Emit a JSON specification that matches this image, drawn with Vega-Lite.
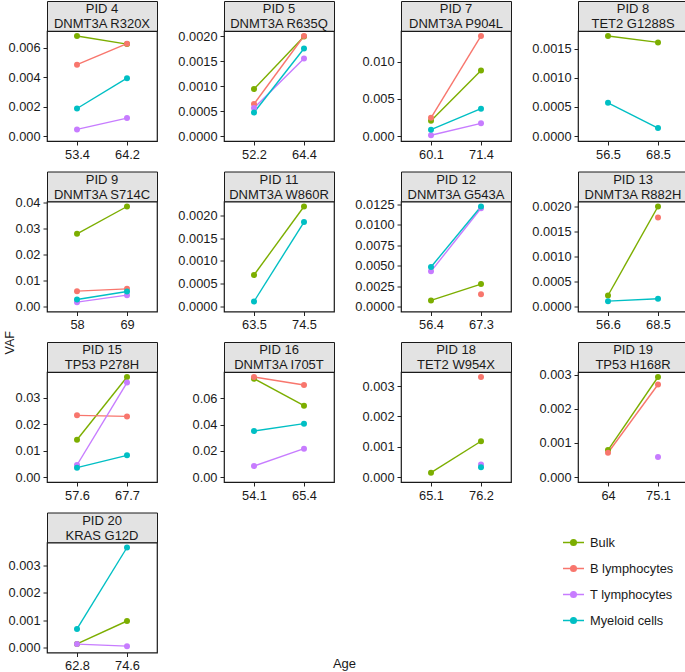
{
  "$schema": "https://vega.github.io/schema/vega-lite/v6.json",
  "padding": 0,
  "background": "white",
  "config": {
    "font": "Liberation Sans",
    "view": {"stroke": null},
    "axis": {"grid": false, "domain": false, "tickColor": "#222", "tickSize": 4, "tickWidth": 1, "labelPadding": 3, "labelFontSize": 12.8, "labelColor": "#1a1a1a", "title": null},
    "axisY": {"minExtent": 46, "maxExtent": 46},
    "axisX": {"labelAngle": 0, "minExtent": 19, "maxExtent": 19},
    "legend": {"orient": "none", "legendX": 515, "legendY": 530, "symbolType": "M-1,0L1,0M0.27,0A0.27,0.27,0,1,1,-0.27,0A0.27,0.27,0,1,1,0.27,0", "symbolSize": 441, "symbolStrokeWidth": 1.4, "labelFontSize": 12.8, "labelColor": "#1a1a1a", "rowPadding": 7, "labelOffset": 5},
    "title": {"fontSize": 13, "fontWeight": "normal", "color": "#1a1a1a"}
  },
  "datasets": {
    "d": [
      {"pid":"PID 4","mut":"DNMT3A R320X","age":"53.4","cell":"Bulk","vaf":0.0068},
      {"pid":"PID 4","mut":"DNMT3A R320X","age":"64.2","cell":"Bulk","vaf":0.00625},
      {"pid":"PID 4","mut":"DNMT3A R320X","age":"53.4","cell":"B lymphocytes","vaf":0.00485},
      {"pid":"PID 4","mut":"DNMT3A R320X","age":"64.2","cell":"B lymphocytes","vaf":0.00628},
      {"pid":"PID 4","mut":"DNMT3A R320X","age":"53.4","cell":"T lymphocytes","vaf":0.00045},
      {"pid":"PID 4","mut":"DNMT3A R320X","age":"64.2","cell":"T lymphocytes","vaf":0.00122},
      {"pid":"PID 4","mut":"DNMT3A R320X","age":"53.4","cell":"Myeloid cells","vaf":0.00187},
      {"pid":"PID 4","mut":"DNMT3A R320X","age":"64.2","cell":"Myeloid cells","vaf":0.00393},

      {"pid":"PID 5","mut":"DNMT3A R635Q","age":"52.2","cell":"Bulk","vaf":0.00094},
      {"pid":"PID 5","mut":"DNMT3A R635Q","age":"64.4","cell":"Bulk","vaf":0.00199},
      {"pid":"PID 5","mut":"DNMT3A R635Q","age":"52.2","cell":"B lymphocytes","vaf":0.00064},
      {"pid":"PID 5","mut":"DNMT3A R635Q","age":"64.4","cell":"B lymphocytes","vaf":0.002},
      {"pid":"PID 5","mut":"DNMT3A R635Q","age":"52.2","cell":"T lymphocytes","vaf":0.00056},
      {"pid":"PID 5","mut":"DNMT3A R635Q","age":"64.4","cell":"T lymphocytes","vaf":0.00155},
      {"pid":"PID 5","mut":"DNMT3A R635Q","age":"52.2","cell":"Myeloid cells","vaf":0.00047},
      {"pid":"PID 5","mut":"DNMT3A R635Q","age":"64.4","cell":"Myeloid cells","vaf":0.00175},

      {"pid":"PID 7","mut":"DNMT3A P904L","age":"60.1","cell":"Bulk","vaf":0.00207},
      {"pid":"PID 7","mut":"DNMT3A P904L","age":"71.4","cell":"Bulk","vaf":0.00883},
      {"pid":"PID 7","mut":"DNMT3A P904L","age":"60.1","cell":"B lymphocytes","vaf":0.00245},
      {"pid":"PID 7","mut":"DNMT3A P904L","age":"71.4","cell":"B lymphocytes","vaf":0.01351},
      {"pid":"PID 7","mut":"DNMT3A P904L","age":"60.1","cell":"T lymphocytes","vaf":0.0001},
      {"pid":"PID 7","mut":"DNMT3A P904L","age":"71.4","cell":"T lymphocytes","vaf":0.00171},
      {"pid":"PID 7","mut":"DNMT3A P904L","age":"60.1","cell":"Myeloid cells","vaf":0.00086},
      {"pid":"PID 7","mut":"DNMT3A P904L","age":"71.4","cell":"Myeloid cells","vaf":0.00369},

      {"pid":"PID 8","mut":"TET2 G1288S","age":"56.5","cell":"Bulk","vaf":0.00172},
      {"pid":"PID 8","mut":"TET2 G1288S","age":"68.5","cell":"Bulk","vaf":0.00161},
      {"pid":"PID 8","mut":"TET2 G1288S","age":"56.5","cell":"Myeloid cells","vaf":0.00057},
      {"pid":"PID 8","mut":"TET2 G1288S","age":"68.5","cell":"Myeloid cells","vaf":0.000137},

      {"pid":"PID 9","mut":"DNMT3A S714C","age":"58","cell":"Bulk","vaf":0.028},
      {"pid":"PID 9","mut":"DNMT3A S714C","age":"69","cell":"Bulk","vaf":0.0385},
      {"pid":"PID 9","mut":"DNMT3A S714C","age":"58","cell":"B lymphocytes","vaf":0.0059},
      {"pid":"PID 9","mut":"DNMT3A S714C","age":"69","cell":"B lymphocytes","vaf":0.0068},
      {"pid":"PID 9","mut":"DNMT3A S714C","age":"58","cell":"T lymphocytes","vaf":0.00167},
      {"pid":"PID 9","mut":"DNMT3A S714C","age":"69","cell":"T lymphocytes","vaf":0.00437},
      {"pid":"PID 9","mut":"DNMT3A S714C","age":"58","cell":"Myeloid cells","vaf":0.0027},
      {"pid":"PID 9","mut":"DNMT3A S714C","age":"69","cell":"Myeloid cells","vaf":0.0058},

      {"pid":"PID 11","mut":"DNMT3A W860R","age":"63.5","cell":"Bulk","vaf":0.00069},
      {"pid":"PID 11","mut":"DNMT3A W860R","age":"74.5","cell":"Bulk","vaf":0.00219},
      {"pid":"PID 11","mut":"DNMT3A W860R","age":"63.5","cell":"Myeloid cells","vaf":0.00011},
      {"pid":"PID 11","mut":"DNMT3A W860R","age":"74.5","cell":"Myeloid cells","vaf":0.00185},

      {"pid":"PID 12","mut":"DNMT3A G543A","age":"56.4","cell":"Bulk","vaf":0.00074},
      {"pid":"PID 12","mut":"DNMT3A G543A","age":"67.3","cell":"Bulk","vaf":0.00274},
      {"pid":"PID 12","mut":"DNMT3A G543A","age":"67.3","cell":"B lymphocytes","vaf":0.00151},
      {"pid":"PID 12","mut":"DNMT3A G543A","age":"56.4","cell":"T lymphocytes","vaf":0.00429},
      {"pid":"PID 12","mut":"DNMT3A G543A","age":"67.3","cell":"T lymphocytes","vaf":0.012},
      {"pid":"PID 12","mut":"DNMT3A G543A","age":"56.4","cell":"Myeloid cells","vaf":0.00482},
      {"pid":"PID 12","mut":"DNMT3A G543A","age":"67.3","cell":"Myeloid cells","vaf":0.01221},

      {"pid":"PID 13","mut":"DNMT3A R882H","age":"56.6","cell":"Bulk","vaf":0.00022},
      {"pid":"PID 13","mut":"DNMT3A R882H","age":"68.5","cell":"Bulk","vaf":0.002},
      {"pid":"PID 13","mut":"DNMT3A R882H","age":"68.5","cell":"B lymphocytes","vaf":0.00178},
      {"pid":"PID 13","mut":"DNMT3A R882H","age":"56.6","cell":"Myeloid cells","vaf":0.000107},
      {"pid":"PID 13","mut":"DNMT3A R882H","age":"68.5","cell":"Myeloid cells","vaf":0.000154},

      {"pid":"PID 15","mut":"TP53 P278H","age":"57.6","cell":"Bulk","vaf":0.0141},
      {"pid":"PID 15","mut":"TP53 P278H","age":"67.7","cell":"Bulk","vaf":0.0378},
      {"pid":"PID 15","mut":"TP53 P278H","age":"57.6","cell":"B lymphocytes","vaf":0.0233},
      {"pid":"PID 15","mut":"TP53 P278H","age":"67.7","cell":"B lymphocytes","vaf":0.0229},
      {"pid":"PID 15","mut":"TP53 P278H","age":"57.6","cell":"T lymphocytes","vaf":0.00454},
      {"pid":"PID 15","mut":"TP53 P278H","age":"67.7","cell":"T lymphocytes","vaf":0.0357},
      {"pid":"PID 15","mut":"TP53 P278H","age":"57.6","cell":"Myeloid cells","vaf":0.00353},
      {"pid":"PID 15","mut":"TP53 P278H","age":"67.7","cell":"Myeloid cells","vaf":0.0082},

      {"pid":"PID 16","mut":"DNMT3A I705T","age":"54.1","cell":"Bulk","vaf":0.075},
      {"pid":"PID 16","mut":"DNMT3A I705T","age":"65.4","cell":"Bulk","vaf":0.0544},
      {"pid":"PID 16","mut":"DNMT3A I705T","age":"54.1","cell":"B lymphocytes","vaf":0.0763},
      {"pid":"PID 16","mut":"DNMT3A I705T","age":"65.4","cell":"B lymphocytes","vaf":0.0702},
      {"pid":"PID 16","mut":"DNMT3A I705T","age":"54.1","cell":"T lymphocytes","vaf":0.0084},
      {"pid":"PID 16","mut":"DNMT3A I705T","age":"65.4","cell":"T lymphocytes","vaf":0.0216},
      {"pid":"PID 16","mut":"DNMT3A I705T","age":"54.1","cell":"Myeloid cells","vaf":0.0351},
      {"pid":"PID 16","mut":"DNMT3A I705T","age":"65.4","cell":"Myeloid cells","vaf":0.0407},

      {"pid":"PID 18","mut":"TET2 W954X","age":"65.1","cell":"Bulk","vaf":0.000143},
      {"pid":"PID 18","mut":"TET2 W954X","age":"76.2","cell":"Bulk","vaf":0.00118},
      {"pid":"PID 18","mut":"TET2 W954X","age":"76.2","cell":"B lymphocytes","vaf":0.0033},
      {"pid":"PID 18","mut":"TET2 W954X","age":"76.2","cell":"T lymphocytes","vaf":0.00041},
      {"pid":"PID 18","mut":"TET2 W954X","age":"76.2","cell":"Myeloid cells","vaf":0.00032},

      {"pid":"PID 19","mut":"TP53 H168R","age":"64","cell":"Bulk","vaf":0.00079},
      {"pid":"PID 19","mut":"TP53 H168R","age":"75.1","cell":"Bulk","vaf":0.00293},
      {"pid":"PID 19","mut":"TP53 H168R","age":"64","cell":"B lymphocytes","vaf":0.00071},
      {"pid":"PID 19","mut":"TP53 H168R","age":"75.1","cell":"B lymphocytes","vaf":0.00271},
      {"pid":"PID 19","mut":"TP53 H168R","age":"75.1","cell":"T lymphocytes","vaf":0.000586},

      {"pid":"PID 20","mut":"KRAS G12D","age":"62.8","cell":"Bulk","vaf":0.00013},
      {"pid":"PID 20","mut":"KRAS G12D","age":"74.6","cell":"Bulk","vaf":0.00097},
      {"pid":"PID 20","mut":"KRAS G12D","age":"62.8","cell":"T lymphocytes","vaf":0.000124},
      {"pid":"PID 20","mut":"KRAS G12D","age":"74.6","cell":"T lymphocytes","vaf":0.00005},
      {"pid":"PID 20","mut":"KRAS G12D","age":"62.8","cell":"Myeloid cells","vaf":0.00068},
      {"pid":"PID 20","mut":"KRAS G12D","age":"74.6","cell":"Myeloid cells","vaf":0.00366}
    ]
  },
  "title": {"text": "Age", "orient": "bottom", "anchor": "middle", "offset": 0, "dy": -15},
  "hconcat": [
    {
      "title": {"text": "VAF", "orient": "left", "anchor": "middle", "offset": -16, "fontSize": 12.5, "dx": -6},
      "columns": 4,
      "spacing": {"row": 8.5, "column": 19},
      "resolve": {"scale": {"x": "independent", "y": "independent"}},
      "concat": [
        {"bounds": "flush", "spacing": 0, "vconcat": [
          {"width": 110, "height": 30, "data": {"name": "d"}, "transform": [{"filter": "datum.pid == 'PID 4'"}, {"aggregate": [{"op": "count", "as": "n"}], "groupby": ["pid", "mut"]}], "view": {"fill": "#e3e3e3", "stroke": "#1a1a1a", "strokeWidth": 1},
           "layer": [{"mark": {"type": "text", "dy": -7, "fontSize": 13, "color": "#1a1a1a"}, "encoding": {"text": {"field": "pid"}}}, {"mark": {"type": "text", "dy": 8, "fontSize": 13, "color": "#1a1a1a"}, "encoding": {"text": {"field": "mut"}}}]},
          {"width": 110, "height": 110, "data": {"name": "d"}, "transform": [{"filter": "datum.pid == 'PID 4'"}], "view": {"stroke": "#1a1a1a", "strokeWidth": 1.2, "fill": "white"},
           "encoding": {"x": {"field": "age", "type": "ordinal", "scale": {"type": "point", "padding": 0.6}},
                        "y": {"field": "vaf", "type": "quantitative", "scale": {"domain": [-0.00034, 0.00714], "nice": false, "zero": false}, "axis": {"values": [0, 0.002, 0.004, 0.006], "format": ".3f"}},
                        "color": {"field": "cell", "type": "nominal", "scale": {"domain": ["Bulk", "B lymphocytes", "T lymphocytes", "Myeloid cells"], "range": ["#7CAE00", "#F8766D", "#C77CFF", "#00BFC4"]}, "legend": {"title": null, "encode": {"symbols": {"update": {"fill": {"scale": "color", "field": "value"}, "stroke": {"scale": "color", "field": "value"}}}}}}},
           "layer": [{"mark": {"type": "line", "strokeWidth": 1.4}}, {"mark": {"type": "point", "filled": true, "size": 36, "opacity": 1}}]}
        ]},
        {"bounds": "flush", "spacing": 0, "vconcat": [
          {"width": 110, "height": 30, "data": {"name": "d"}, "transform": [{"filter": "datum.pid == 'PID 5'"}, {"aggregate": [{"op": "count", "as": "n"}], "groupby": ["pid", "mut"]}], "view": {"fill": "#e3e3e3", "stroke": "#1a1a1a", "strokeWidth": 1},
           "layer": [{"mark": {"type": "text", "dy": -7, "fontSize": 13, "color": "#1a1a1a"}, "encoding": {"text": {"field": "pid"}}}, {"mark": {"type": "text", "dy": 8, "fontSize": 13, "color": "#1a1a1a"}, "encoding": {"text": {"field": "mut"}}}]},
          {"width": 110, "height": 110, "data": {"name": "d"}, "transform": [{"filter": "datum.pid == 'PID 5'"}], "view": {"stroke": "#1a1a1a", "strokeWidth": 1.2, "fill": "white"},
           "encoding": {"x": {"field": "age", "type": "ordinal", "scale": {"type": "point", "padding": 0.6}},
                        "y": {"field": "vaf", "type": "quantitative", "scale": {"domain": [-0.0001, 0.0021], "nice": false, "zero": false}, "axis": {"values": [0, 0.0005, 0.001, 0.0015, 0.002], "format": ".4f"}},
                        "color": {"field": "cell", "type": "nominal", "scale": {"domain": ["Bulk", "B lymphocytes", "T lymphocytes", "Myeloid cells"], "range": ["#7CAE00", "#F8766D", "#C77CFF", "#00BFC4"]}, "legend": {"title": null, "encode": {"symbols": {"update": {"fill": {"scale": "color", "field": "value"}, "stroke": {"scale": "color", "field": "value"}}}}}}},
           "layer": [{"mark": {"type": "line", "strokeWidth": 1.4}}, {"mark": {"type": "point", "filled": true, "size": 36, "opacity": 1}}]}
        ]},
        {"bounds": "flush", "spacing": 0, "vconcat": [
          {"width": 110, "height": 30, "data": {"name": "d"}, "transform": [{"filter": "datum.pid == 'PID 7'"}, {"aggregate": [{"op": "count", "as": "n"}], "groupby": ["pid", "mut"]}], "view": {"fill": "#e3e3e3", "stroke": "#1a1a1a", "strokeWidth": 1},
           "layer": [{"mark": {"type": "text", "dy": -7, "fontSize": 13, "color": "#1a1a1a"}, "encoding": {"text": {"field": "pid"}}}, {"mark": {"type": "text", "dy": 8, "fontSize": 13, "color": "#1a1a1a"}, "encoding": {"text": {"field": "mut"}}}]},
          {"width": 110, "height": 110, "data": {"name": "d"}, "transform": [{"filter": "datum.pid == 'PID 7'"}], "view": {"stroke": "#1a1a1a", "strokeWidth": 1.2, "fill": "white"},
           "encoding": {"x": {"field": "age", "type": "ordinal", "scale": {"type": "point", "padding": 0.6}},
                        "y": {"field": "vaf", "type": "quantitative", "scale": {"domain": [-0.000675, 0.014175], "nice": false, "zero": false}, "axis": {"values": [0, 0.005, 0.01], "format": ".3f"}},
                        "color": {"field": "cell", "type": "nominal", "scale": {"domain": ["Bulk", "B lymphocytes", "T lymphocytes", "Myeloid cells"], "range": ["#7CAE00", "#F8766D", "#C77CFF", "#00BFC4"]}, "legend": {"title": null, "encode": {"symbols": {"update": {"fill": {"scale": "color", "field": "value"}, "stroke": {"scale": "color", "field": "value"}}}}}}},
           "layer": [{"mark": {"type": "line", "strokeWidth": 1.4}}, {"mark": {"type": "point", "filled": true, "size": 36, "opacity": 1}}]}
        ]},
        {"bounds": "flush", "spacing": 0, "vconcat": [
          {"width": 110, "height": 30, "data": {"name": "d"}, "transform": [{"filter": "datum.pid == 'PID 8'"}, {"aggregate": [{"op": "count", "as": "n"}], "groupby": ["pid", "mut"]}], "view": {"fill": "#e3e3e3", "stroke": "#1a1a1a", "strokeWidth": 1},
           "layer": [{"mark": {"type": "text", "dy": -7, "fontSize": 13, "color": "#1a1a1a"}, "encoding": {"text": {"field": "pid"}}}, {"mark": {"type": "text", "dy": 8, "fontSize": 13, "color": "#1a1a1a"}, "encoding": {"text": {"field": "mut"}}}]},
          {"width": 110, "height": 110, "data": {"name": "d"}, "transform": [{"filter": "datum.pid == 'PID 8'"}], "view": {"stroke": "#1a1a1a", "strokeWidth": 1.2, "fill": "white"},
           "encoding": {"x": {"field": "age", "type": "ordinal", "scale": {"type": "point", "padding": 0.6}},
                        "y": {"field": "vaf", "type": "quantitative", "scale": {"domain": [-0.000086, 0.001806], "nice": false, "zero": false}, "axis": {"values": [0, 0.0005, 0.001, 0.0015], "format": ".4f"}},
                        "color": {"field": "cell", "type": "nominal", "scale": {"domain": ["Bulk", "B lymphocytes", "T lymphocytes", "Myeloid cells"], "range": ["#7CAE00", "#F8766D", "#C77CFF", "#00BFC4"]}, "legend": {"title": null, "encode": {"symbols": {"update": {"fill": {"scale": "color", "field": "value"}, "stroke": {"scale": "color", "field": "value"}}}}}}},
           "layer": [{"mark": {"type": "line", "strokeWidth": 1.4}}, {"mark": {"type": "point", "filled": true, "size": 36, "opacity": 1}}]}
        ]},
        {"bounds": "flush", "spacing": 0, "vconcat": [
          {"width": 110, "height": 30, "data": {"name": "d"}, "transform": [{"filter": "datum.pid == 'PID 9'"}, {"aggregate": [{"op": "count", "as": "n"}], "groupby": ["pid", "mut"]}], "view": {"fill": "#e3e3e3", "stroke": "#1a1a1a", "strokeWidth": 1},
           "layer": [{"mark": {"type": "text", "dy": -7, "fontSize": 13, "color": "#1a1a1a"}, "encoding": {"text": {"field": "pid"}}}, {"mark": {"type": "text", "dy": 8, "fontSize": 13, "color": "#1a1a1a"}, "encoding": {"text": {"field": "mut"}}}]},
          {"width": 110, "height": 110, "data": {"name": "d"}, "transform": [{"filter": "datum.pid == 'PID 9'"}], "view": {"stroke": "#1a1a1a", "strokeWidth": 1.2, "fill": "white"},
           "encoding": {"x": {"field": "age", "type": "ordinal", "scale": {"type": "point", "padding": 0.6}},
                        "y": {"field": "vaf", "type": "quantitative", "scale": {"domain": [-0.001925, 0.040425], "nice": false, "zero": false}, "axis": {"values": [0, 0.01, 0.02, 0.03, 0.04], "format": ".2f"}},
                        "color": {"field": "cell", "type": "nominal", "scale": {"domain": ["Bulk", "B lymphocytes", "T lymphocytes", "Myeloid cells"], "range": ["#7CAE00", "#F8766D", "#C77CFF", "#00BFC4"]}, "legend": {"title": null, "encode": {"symbols": {"update": {"fill": {"scale": "color", "field": "value"}, "stroke": {"scale": "color", "field": "value"}}}}}}},
           "layer": [{"mark": {"type": "line", "strokeWidth": 1.4}}, {"mark": {"type": "point", "filled": true, "size": 36, "opacity": 1}}]}
        ]},
        {"bounds": "flush", "spacing": 0, "vconcat": [
          {"width": 110, "height": 30, "data": {"name": "d"}, "transform": [{"filter": "datum.pid == 'PID 11'"}, {"aggregate": [{"op": "count", "as": "n"}], "groupby": ["pid", "mut"]}], "view": {"fill": "#e3e3e3", "stroke": "#1a1a1a", "strokeWidth": 1},
           "layer": [{"mark": {"type": "text", "dy": -7, "fontSize": 13, "color": "#1a1a1a"}, "encoding": {"text": {"field": "pid"}}}, {"mark": {"type": "text", "dy": 8, "fontSize": 13, "color": "#1a1a1a"}, "encoding": {"text": {"field": "mut"}}}]},
          {"width": 110, "height": 110, "data": {"name": "d"}, "transform": [{"filter": "datum.pid == 'PID 11'"}], "view": {"stroke": "#1a1a1a", "strokeWidth": 1.2, "fill": "white"},
           "encoding": {"x": {"field": "age", "type": "ordinal", "scale": {"type": "point", "padding": 0.6}},
                        "y": {"field": "vaf", "type": "quantitative", "scale": {"domain": [-0.0001095, 0.0022995], "nice": false, "zero": false}, "axis": {"values": [0, 0.0005, 0.001, 0.0015, 0.002], "format": ".4f"}},
                        "color": {"field": "cell", "type": "nominal", "scale": {"domain": ["Bulk", "B lymphocytes", "T lymphocytes", "Myeloid cells"], "range": ["#7CAE00", "#F8766D", "#C77CFF", "#00BFC4"]}, "legend": {"title": null, "encode": {"symbols": {"update": {"fill": {"scale": "color", "field": "value"}, "stroke": {"scale": "color", "field": "value"}}}}}}},
           "layer": [{"mark": {"type": "line", "strokeWidth": 1.4}}, {"mark": {"type": "point", "filled": true, "size": 36, "opacity": 1}}]}
        ]},
        {"bounds": "flush", "spacing": 0, "vconcat": [
          {"width": 110, "height": 30, "data": {"name": "d"}, "transform": [{"filter": "datum.pid == 'PID 12'"}, {"aggregate": [{"op": "count", "as": "n"}], "groupby": ["pid", "mut"]}], "view": {"fill": "#e3e3e3", "stroke": "#1a1a1a", "strokeWidth": 1},
           "layer": [{"mark": {"type": "text", "dy": -7, "fontSize": 13, "color": "#1a1a1a"}, "encoding": {"text": {"field": "pid"}}}, {"mark": {"type": "text", "dy": 8, "fontSize": 13, "color": "#1a1a1a"}, "encoding": {"text": {"field": "mut"}}}]},
          {"width": 110, "height": 110, "data": {"name": "d"}, "transform": [{"filter": "datum.pid == 'PID 12'"}], "view": {"stroke": "#1a1a1a", "strokeWidth": 1.2, "fill": "white"},
           "encoding": {"x": {"field": "age", "type": "ordinal", "scale": {"type": "point", "padding": 0.6}},
                        "y": {"field": "vaf", "type": "quantitative", "scale": {"domain": [-0.00061, 0.01282], "nice": false, "zero": false}, "axis": {"values": [0, 0.0025, 0.005, 0.0075, 0.01, 0.0125], "format": ".4f"}},
                        "color": {"field": "cell", "type": "nominal", "scale": {"domain": ["Bulk", "B lymphocytes", "T lymphocytes", "Myeloid cells"], "range": ["#7CAE00", "#F8766D", "#C77CFF", "#00BFC4"]}, "legend": {"title": null, "encode": {"symbols": {"update": {"fill": {"scale": "color", "field": "value"}, "stroke": {"scale": "color", "field": "value"}}}}}}},
           "layer": [{"mark": {"type": "line", "strokeWidth": 1.4}}, {"mark": {"type": "point", "filled": true, "size": 36, "opacity": 1}}]}
        ]},
        {"bounds": "flush", "spacing": 0, "vconcat": [
          {"width": 110, "height": 30, "data": {"name": "d"}, "transform": [{"filter": "datum.pid == 'PID 13'"}, {"aggregate": [{"op": "count", "as": "n"}], "groupby": ["pid", "mut"]}], "view": {"fill": "#e3e3e3", "stroke": "#1a1a1a", "strokeWidth": 1},
           "layer": [{"mark": {"type": "text", "dy": -7, "fontSize": 13, "color": "#1a1a1a"}, "encoding": {"text": {"field": "pid"}}}, {"mark": {"type": "text", "dy": 8, "fontSize": 13, "color": "#1a1a1a"}, "encoding": {"text": {"field": "mut"}}}]},
          {"width": 110, "height": 110, "data": {"name": "d"}, "transform": [{"filter": "datum.pid == 'PID 13'"}], "view": {"stroke": "#1a1a1a", "strokeWidth": 1.2, "fill": "white"},
           "encoding": {"x": {"field": "age", "type": "ordinal", "scale": {"type": "point", "padding": 0.6}},
                        "y": {"field": "vaf", "type": "quantitative", "scale": {"domain": [-0.0001, 0.0021], "nice": false, "zero": false}, "axis": {"values": [0, 0.0005, 0.001, 0.0015, 0.002], "format": ".4f"}},
                        "color": {"field": "cell", "type": "nominal", "scale": {"domain": ["Bulk", "B lymphocytes", "T lymphocytes", "Myeloid cells"], "range": ["#7CAE00", "#F8766D", "#C77CFF", "#00BFC4"]}, "legend": {"title": null, "encode": {"symbols": {"update": {"fill": {"scale": "color", "field": "value"}, "stroke": {"scale": "color", "field": "value"}}}}}}},
           "layer": [{"mark": {"type": "line", "strokeWidth": 1.4}}, {"mark": {"type": "point", "filled": true, "size": 36, "opacity": 1}}]}
        ]},
        {"bounds": "flush", "spacing": 0, "vconcat": [
          {"width": 110, "height": 30, "data": {"name": "d"}, "transform": [{"filter": "datum.pid == 'PID 15'"}, {"aggregate": [{"op": "count", "as": "n"}], "groupby": ["pid", "mut"]}], "view": {"fill": "#e3e3e3", "stroke": "#1a1a1a", "strokeWidth": 1},
           "layer": [{"mark": {"type": "text", "dy": -7, "fontSize": 13, "color": "#1a1a1a"}, "encoding": {"text": {"field": "pid"}}}, {"mark": {"type": "text", "dy": 8, "fontSize": 13, "color": "#1a1a1a"}, "encoding": {"text": {"field": "mut"}}}]},
          {"width": 110, "height": 110, "data": {"name": "d"}, "transform": [{"filter": "datum.pid == 'PID 15'"}], "view": {"stroke": "#1a1a1a", "strokeWidth": 1.2, "fill": "white"},
           "encoding": {"x": {"field": "age", "type": "ordinal", "scale": {"type": "point", "padding": 0.6}},
                        "y": {"field": "vaf", "type": "quantitative", "scale": {"domain": [-0.00189, 0.03969], "nice": false, "zero": false}, "axis": {"values": [0, 0.01, 0.02, 0.03], "format": ".2f"}},
                        "color": {"field": "cell", "type": "nominal", "scale": {"domain": ["Bulk", "B lymphocytes", "T lymphocytes", "Myeloid cells"], "range": ["#7CAE00", "#F8766D", "#C77CFF", "#00BFC4"]}, "legend": {"title": null, "encode": {"symbols": {"update": {"fill": {"scale": "color", "field": "value"}, "stroke": {"scale": "color", "field": "value"}}}}}}},
           "layer": [{"mark": {"type": "line", "strokeWidth": 1.4}}, {"mark": {"type": "point", "filled": true, "size": 36, "opacity": 1}}]}
        ]},
        {"bounds": "flush", "spacing": 0, "vconcat": [
          {"width": 110, "height": 30, "data": {"name": "d"}, "transform": [{"filter": "datum.pid == 'PID 16'"}, {"aggregate": [{"op": "count", "as": "n"}], "groupby": ["pid", "mut"]}], "view": {"fill": "#e3e3e3", "stroke": "#1a1a1a", "strokeWidth": 1},
           "layer": [{"mark": {"type": "text", "dy": -7, "fontSize": 13, "color": "#1a1a1a"}, "encoding": {"text": {"field": "pid"}}}, {"mark": {"type": "text", "dy": 8, "fontSize": 13, "color": "#1a1a1a"}, "encoding": {"text": {"field": "mut"}}}]},
          {"width": 110, "height": 110, "data": {"name": "d"}, "transform": [{"filter": "datum.pid == 'PID 16'"}], "view": {"stroke": "#1a1a1a", "strokeWidth": 1.2, "fill": "white"},
           "encoding": {"x": {"field": "age", "type": "ordinal", "scale": {"type": "point", "padding": 0.6}},
                        "y": {"field": "vaf", "type": "quantitative", "scale": {"domain": [-0.003815, 0.080115], "nice": false, "zero": false}, "axis": {"values": [0, 0.02, 0.04, 0.06], "format": ".2f"}},
                        "color": {"field": "cell", "type": "nominal", "scale": {"domain": ["Bulk", "B lymphocytes", "T lymphocytes", "Myeloid cells"], "range": ["#7CAE00", "#F8766D", "#C77CFF", "#00BFC4"]}, "legend": {"title": null, "encode": {"symbols": {"update": {"fill": {"scale": "color", "field": "value"}, "stroke": {"scale": "color", "field": "value"}}}}}}},
           "layer": [{"mark": {"type": "line", "strokeWidth": 1.4}}, {"mark": {"type": "point", "filled": true, "size": 36, "opacity": 1}}]}
        ]},
        {"bounds": "flush", "spacing": 0, "vconcat": [
          {"width": 110, "height": 30, "data": {"name": "d"}, "transform": [{"filter": "datum.pid == 'PID 18'"}, {"aggregate": [{"op": "count", "as": "n"}], "groupby": ["pid", "mut"]}], "view": {"fill": "#e3e3e3", "stroke": "#1a1a1a", "strokeWidth": 1},
           "layer": [{"mark": {"type": "text", "dy": -7, "fontSize": 13, "color": "#1a1a1a"}, "encoding": {"text": {"field": "pid"}}}, {"mark": {"type": "text", "dy": 8, "fontSize": 13, "color": "#1a1a1a"}, "encoding": {"text": {"field": "mut"}}}]},
          {"width": 110, "height": 110, "data": {"name": "d"}, "transform": [{"filter": "datum.pid == 'PID 18'"}], "view": {"stroke": "#1a1a1a", "strokeWidth": 1.2, "fill": "white"},
           "encoding": {"x": {"field": "age", "type": "ordinal", "scale": {"type": "point", "padding": 0.6}},
                        "y": {"field": "vaf", "type": "quantitative", "scale": {"domain": [-0.000165, 0.003465], "nice": false, "zero": false}, "axis": {"values": [0, 0.001, 0.002, 0.003], "format": ".3f"}},
                        "color": {"field": "cell", "type": "nominal", "scale": {"domain": ["Bulk", "B lymphocytes", "T lymphocytes", "Myeloid cells"], "range": ["#7CAE00", "#F8766D", "#C77CFF", "#00BFC4"]}, "legend": {"title": null, "encode": {"symbols": {"update": {"fill": {"scale": "color", "field": "value"}, "stroke": {"scale": "color", "field": "value"}}}}}}},
           "layer": [{"mark": {"type": "line", "strokeWidth": 1.4}}, {"mark": {"type": "point", "filled": true, "size": 36, "opacity": 1}}]}
        ]},
        {"bounds": "flush", "spacing": 0, "vconcat": [
          {"width": 110, "height": 30, "data": {"name": "d"}, "transform": [{"filter": "datum.pid == 'PID 19'"}, {"aggregate": [{"op": "count", "as": "n"}], "groupby": ["pid", "mut"]}], "view": {"fill": "#e3e3e3", "stroke": "#1a1a1a", "strokeWidth": 1},
           "layer": [{"mark": {"type": "text", "dy": -7, "fontSize": 13, "color": "#1a1a1a"}, "encoding": {"text": {"field": "pid"}}}, {"mark": {"type": "text", "dy": 8, "fontSize": 13, "color": "#1a1a1a"}, "encoding": {"text": {"field": "mut"}}}]},
          {"width": 110, "height": 110, "data": {"name": "d"}, "transform": [{"filter": "datum.pid == 'PID 19'"}], "view": {"stroke": "#1a1a1a", "strokeWidth": 1.2, "fill": "white"},
           "encoding": {"x": {"field": "age", "type": "ordinal", "scale": {"type": "point", "padding": 0.6}},
                        "y": {"field": "vaf", "type": "quantitative", "scale": {"domain": [-0.0001465, 0.0030765], "nice": false, "zero": false}, "axis": {"values": [0, 0.001, 0.002, 0.003], "format": ".3f"}},
                        "color": {"field": "cell", "type": "nominal", "scale": {"domain": ["Bulk", "B lymphocytes", "T lymphocytes", "Myeloid cells"], "range": ["#7CAE00", "#F8766D", "#C77CFF", "#00BFC4"]}, "legend": {"title": null, "encode": {"symbols": {"update": {"fill": {"scale": "color", "field": "value"}, "stroke": {"scale": "color", "field": "value"}}}}}}},
           "layer": [{"mark": {"type": "line", "strokeWidth": 1.4}}, {"mark": {"type": "point", "filled": true, "size": 36, "opacity": 1}}]}
        ]},
        {"bounds": "flush", "spacing": 0, "vconcat": [
          {"width": 110, "height": 30, "data": {"name": "d"}, "transform": [{"filter": "datum.pid == 'PID 20'"}, {"aggregate": [{"op": "count", "as": "n"}], "groupby": ["pid", "mut"]}], "view": {"fill": "#e3e3e3", "stroke": "#1a1a1a", "strokeWidth": 1},
           "layer": [{"mark": {"type": "text", "dy": -7, "fontSize": 13, "color": "#1a1a1a"}, "encoding": {"text": {"field": "pid"}}}, {"mark": {"type": "text", "dy": 8, "fontSize": 13, "color": "#1a1a1a"}, "encoding": {"text": {"field": "mut"}}}]},
          {"width": 110, "height": 110, "data": {"name": "d"}, "transform": [{"filter": "datum.pid == 'PID 20'"}], "view": {"stroke": "#1a1a1a", "strokeWidth": 1.2, "fill": "white"},
           "encoding": {"x": {"field": "age", "type": "ordinal", "scale": {"type": "point", "padding": 0.6}},
                        "y": {"field": "vaf", "type": "quantitative", "scale": {"domain": [-0.000183, 0.003843], "nice": false, "zero": false}, "axis": {"values": [0, 0.001, 0.002, 0.003], "format": ".3f"}},
                        "color": {"field": "cell", "type": "nominal", "scale": {"domain": ["Bulk", "B lymphocytes", "T lymphocytes", "Myeloid cells"], "range": ["#7CAE00", "#F8766D", "#C77CFF", "#00BFC4"]}, "legend": {"title": null, "encode": {"symbols": {"update": {"fill": {"scale": "color", "field": "value"}, "stroke": {"scale": "color", "field": "value"}}}}}}},
           "layer": [{"mark": {"type": "line", "strokeWidth": 1.4}}, {"mark": {"type": "point", "filled": true, "size": 36, "opacity": 1}}]}
        ]}
      ]
    }
  ]
}
